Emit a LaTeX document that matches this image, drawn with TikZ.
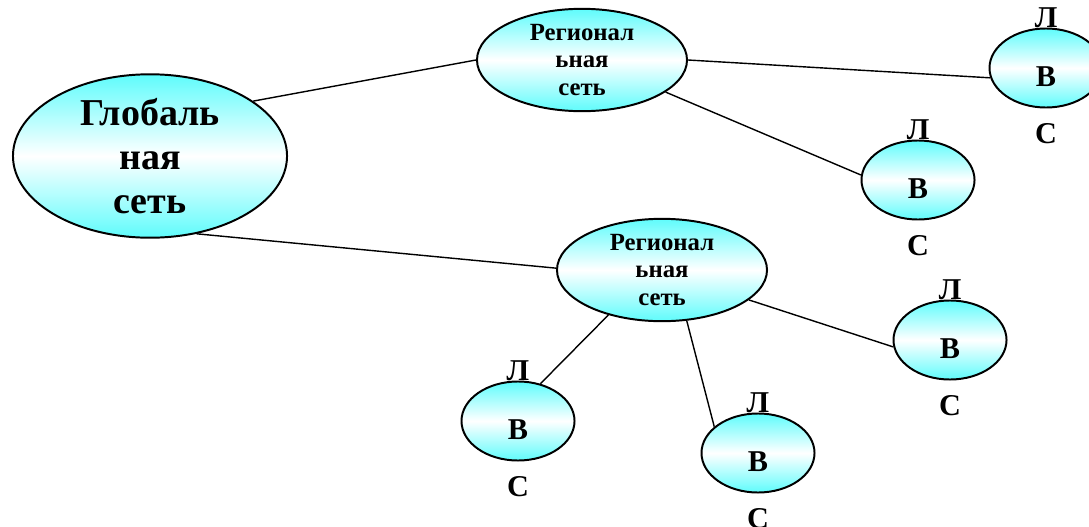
\documentclass[tikz,border=0pt]{standalone}
\usepackage{fontspec}
\setmainfont{Liberation Serif}
\usepackage{tikz}
\usetikzlibrary{shapes.geometric}

\definecolor{netcyan}{RGB}{95,252,252}

\begin{document}
\begin{tikzpicture}[x=0.025cm, y=-0.025cm, mynet/.style={ellipse, draw=black, line width=1.4pt, top color=netcyan, bottom color=netcyan, middle color=white, inner sep=0pt, align=center}, myglob/.style={mynet, minimum width=6.85cm, minimum height=3.125cm, font=\fontsize{27}{31.3}\selectfont\bfseries}, myreg/.style={mynet, minimum width=5.25cm, minimum height=2.375cm, font=\fontsize{17.6}{19.9}\selectfont\bfseries}, mylbl/.style={anchor=base, inner sep=0pt, font=\fontsize{21.5}{24}\selectfont\bfseries}, mylan/.style={mynet, minimum width=2.825cm, minimum height=1.975cm, text height=0.9cm, text depth=0pt, font=\fontsize{21.5}{24}\selectfont\bfseries, label={[mylbl]above:Л}, label={[mylbl, label distance=0.875cm]below:С}}, conn/.style={black, line width=1pt}]
  \useasboundingbox (0,0) rectangle (1089,526);
  \node [myglob] (G) at (150,156) {Глобаль\\ная\\сеть};
  \node [myreg] (R1) at (582,60) {Регионал\\ьная\\сеть};
  \node [myreg] (R2) at (662,270) {Регионал\\ьная\\сеть};
  \node [mylan] (L1) at (1046,68) {В};
  \node [mylan] (L2) at (918,180) {В};
  \node [mylan] (L3) at (950,340) {В};
  \node [mylan] (L4) at (518,421) {В};
  \node [mylan] (L5) at (758,453) {В};
  \foreach \a/\b in {G.28/R1.180, G.-59/R2.179, R1.0/L1.190, R1.-21/L2.175, R2.-19/L3.187, R2.220/L4.59, R2.-64/L5.149} {\draw [conn] (\a) -- (\b);};
\end{tikzpicture}
\end{document}
